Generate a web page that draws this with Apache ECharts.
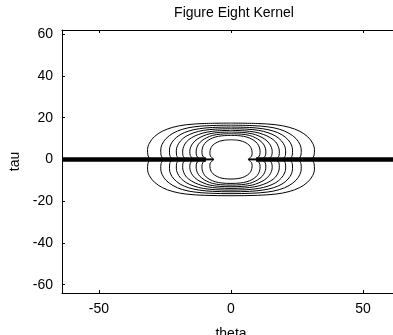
<!DOCTYPE html>
<html>
<head>
<meta charset="utf-8">
<script src="https://cdn.jsdelivr.net/npm/echarts@6/dist/echarts.min.js"></script>
<style>html,body{margin:0;padding:0;background:#fff}#c{width:393px;height:335px}</style>
</head>
<body>
<div id="c"></div>
<script>
// Upper-left quadrant of each contour: [theta, tau], from top centre to the waist on tau = 0
const contour1 = [[0,17.4],[-10,17.2],[-17,16.6],[-22,15.4],[-26,13.5],[-29,10.9],[-30.9,7.8],[-31.6,4.7],[-31.5,2.2],[-30.9,0]];
const contour2 = [[0,16.4],[-8,16.2],[-14,15.6],[-18.5,14.4],[-22,12.5],[-24.6,10],[-26.1,7.2],[-26.6,4.5],[-26.5,2.1],[-25.8,0]];
const contour3 = [[0,15.5],[-7,15.3],[-12,14.7],[-16,13.6],[-19.3,11.8],[-21.6,9.4],[-22.9,6.9],[-23.3,4.4],[-23.2,2],[-22.4,0]];
const contour4 = [[0,14.7],[-6,14.5],[-10.5,13.9],[-14,12.8],[-17,11.1],[-19.1,8.9],[-20.3,6.5],[-20.7,4.2],[-20.6,1.9],[-19.7,0]];
const contour5 = [[0,13.9],[-5,13.7],[-9,13.1],[-12.2,12],[-14.9,10.4],[-16.9,8.4],[-17.9,6.2],[-18.3,4],[-18.2,1.8],[-17.2,0]];
const contour6 = [[0,13.1],[-4.5,12.9],[-8,12.3],[-10.6,11.2],[-12.8,9.7],[-14.4,7.8],[-15.3,5.8],[-15.6,3.8],[-15.4,1.8],[-14.4,0]];
const contour7 = [[0,12.3],[-4,12.1],[-7,11.5],[-9.2,10.4],[-11,9],[-12.3,7.3],[-13,5.4],[-13.2,3.6],[-13,1.7],[-11.9,0]];
const contour8 = [[0,11.5],[-3.5,11.3],[-6,10.7],[-7.9,9.7],[-9.4,8.4],[-10.4,6.8],[-10.9,5],[-11,3.4],[-10.7,1.6],[-9.6,0]];
const contour9 = [[0,9.4],[-2.5,9.2],[-4.3,8.7],[-5.7,7.9],[-6.8,6.9],[-7.5,5.7],[-7.9,4.3],[-8,2.9],[-7.7,1.4],[-6.6,0]];
// ridge along tau = 0 (outside the innermost contour)
const ridgeThick = [[[-64,0],[-9.5,0]],[[9.5,0],[64,0]]];
const ridgeThin = [[[-9.5,0],[-6.6,0]],[[6.6,0],[9.5,0]]];
const xTicks = [-50, 0, 50];
const yTicks = [-60, -40, -20, 0, 20, 40, 60];

const contours = [contour1,contour2,contour3,contour4,contour5,contour6,contour7,contour8,contour9];

function closePath(q){
  const out = q.map(p => [p[0], p[1]]);
  for (let i = q.length - 2; i >= 0; i--) out.push([q[i][0], -q[i][1]]);
  for (let i = 1; i < q.length; i++) out.push([-q[i][0], -q[i][1]]);
  for (let i = q.length - 2; i >= 0; i--) out.push([-q[i][0], q[i][1]]);
  return out;
}

const font = 'Liberation Sans, Arial, Helvetica, sans-serif';
const series = [];
contours.forEach(q => series.push({
  type:'line', data: closePath(q), smooth: 0.35, symbol:'none',
  lineStyle:{color:'#000', width:1}, silent:true, animation:false
}));
ridgeThick.forEach(seg => series.push({
  type:'line', data: seg, symbol:'none', lineStyle:{color:'#000', width:4.5}, silent:true, animation:false
}));
ridgeThin.forEach(seg => series.push({
  type:'line', data: seg, symbol:'none', lineStyle:{color:'#000', width:2}, silent:true, animation:false
}));

const chart = echarts.init(document.getElementById('c'), null, {renderer:'canvas'});
const axisCommon = {
  axisLine:{show:true, onZero:false, lineStyle:{color:'#000', width:1}},
  splitLine:{show:false}
};
chart.setOption({
  animation:false,
  backgroundColor:'#fff',
  title:{text:'Figure Eight Kernel', left:229, top:1, textAlign:'center',
    textStyle:{fontFamily:font, fontSize:14, fontWeight:'normal', color:'#000'}},
  grid:{left:62, top:30, width:338, height:263, containLabel:false, outerBoundsMode:'none'},
  xAxis:[
    Object.assign({type:'value', position:'bottom', min:-64, max:64,
      name:'theta', nameLocation:'middle', nameGap:34,
      nameTextStyle:{fontFamily:font, fontSize:14, color:'#000'},
      axisTick:{show:true, inside:true, length:3, customValues:xTicks, lineStyle:{color:'#000'}},
      axisLabel:{show:true, customValues:xTicks, fontFamily:font, fontSize:14, color:'#000', margin:9}
    }, axisCommon),
    Object.assign({type:'value', position:'top', min:-64, max:64,
      axisTick:{show:true, inside:true, length:3, customValues:xTicks, lineStyle:{color:'#000'}},
      axisLabel:{show:false}
    }, axisCommon)
  ],
  yAxis:[
    Object.assign({type:'value', position:'left', min:-64, max:62,
      name:'tau', nameLocation:'middle', nameGap:28, nameRotate:90,
      nameTextStyle:{fontFamily:font, fontSize:14, color:'#000'},
      axisTick:{show:true, inside:true, length:3, customValues:yTicks, lineStyle:{color:'#000'}},
      axisLabel:{show:true, customValues:yTicks, fontFamily:font, fontSize:14, color:'#000', margin:9}
    }, axisCommon),
    Object.assign({type:'value', position:'right', min:-64, max:62,
      axisTick:{show:true, inside:true, length:3, customValues:yTicks, lineStyle:{color:'#000'}},
      axisLabel:{show:false}
    }, axisCommon)
  ],
  series: series
});
</script>
</body>
</html>
